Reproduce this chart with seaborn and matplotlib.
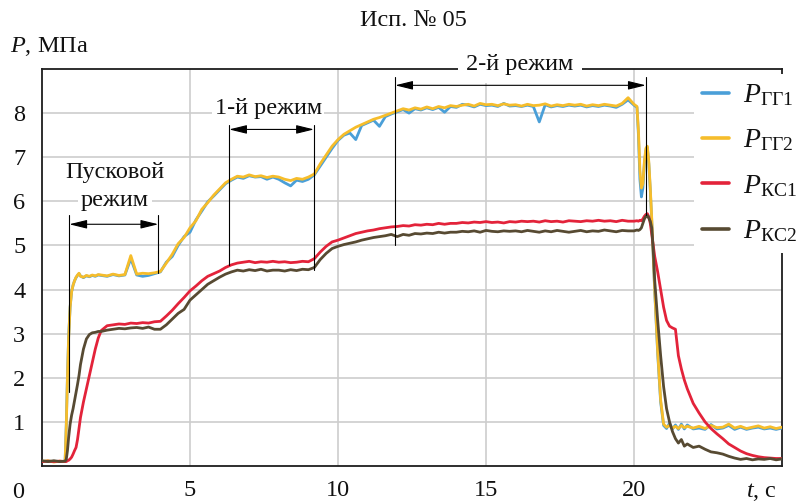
import numpy as np
import pandas as pd
import seaborn as sns
import matplotlib
matplotlib.use("Agg")
import matplotlib.pyplot as plt
from matplotlib.lines import Line2D

# ---------------- data ----------------
t_start = [0, 0.2, 0.4, 0.6, 0.78, 0.82, 0.86, 0.9, 0.95, 1.0, 1.05, 1.1,
           1.15, 1.2, 1.25, 1.3, 1.4, 1.5, 1.6, 1.7, 1.8, 1.9]
t_mid = [2.0, 2.2, 2.4, 2.6, 2.8, 3.0, 3.2, 3.4, 3.6, 3.8,
         4.0, 4.2, 4.4, 4.6, 4.8, 5.0, 5.2, 5.4, 5.6, 5.8,
         6.0, 6.2, 6.4, 6.6, 6.8, 7.0, 7.2, 7.4, 7.6, 7.8,
         8.0, 8.2, 8.4, 8.6, 8.8, 9.0, 9.2, 9.4, 9.6, 9.8,
         10.0, 10.2, 10.4, 10.6, 10.8, 11.0, 11.2, 11.4, 11.6, 11.8,
         12.0, 12.2, 12.4, 12.6, 12.8, 13.0, 13.2, 13.4, 13.6, 13.8,
         14.0, 14.2, 14.4, 14.6, 14.8, 15.0, 15.2, 15.4, 15.6, 15.8,
         16.0, 16.2, 16.4, 16.6, 16.8, 17.0, 17.2, 17.4, 17.6, 17.8,
         18.0, 18.2, 18.4, 18.6, 18.8, 19.0, 19.2, 19.4, 19.6, 19.8]
t_end = [20.0, 20.1, 20.15, 20.2, 20.25, 20.3, 20.35, 20.4, 20.45, 20.5,
         20.55, 20.6, 20.65, 20.7, 20.8, 20.9, 21.0, 21.1, 21.2, 21.3,
         21.4, 21.5, 21.6, 21.7, 21.8, 22.0]
t_tail = [22.2, 22.4, 22.6, 22.8, 23.0, 23.2, 23.4, 23.6, 23.8, 24.0,
          24.2, 24.4, 24.6, 24.8, 25.0]

p_gg1 = ([0.1, 0.11, 0.1, 0.1, 0.1, 0.95, 2.05, 2.95, 3.6, 3.95, 4.1, 4.2,
          4.27, 4.32, 4.36, 4.31, 4.27, 4.31, 4.29, 4.32, 4.3, 4.33]
         + [4.32, 4.3, 4.34, 4.31, 4.33, 4.7, 4.33, 4.3, 4.32, 4.36,
            4.4, 4.62, 4.75, 5.0, 5.2, 5.3, 5.58, 5.78, 5.99, 6.12,
            6.26, 6.4, 6.48, 6.55, 6.52, 6.58, 6.55, 6.56, 6.5, 6.55,
            6.5, 6.42, 6.35, 6.48, 6.45, 6.5, 6.6, 6.8, 7.0, 7.2,
            7.38, 7.5, 7.55, 7.4, 7.72, 7.78, 7.84, 7.7, 7.92, 7.98,
            8.03, 8.08, 8.0, 8.1, 8.07, 8.12, 8.08, 8.13, 8.02, 8.15,
            8.13, 8.2, 8.18, 8.14, 8.2, 8.17, 8.18, 8.15, 8.22, 8.16,
            8.17, 8.15, 8.18, 8.15, 7.8, 8.19, 8.14, 8.17, 8.15, 8.18,
            8.16, 8.18, 8.14, 8.17, 8.15, 8.18, 8.16, 8.13, 8.2, 8.3]
         + [8.18, 8.13, 7.5, 6.5, 6.1, 6.3, 6.85, 7.15, 7.22, 6.85,
            6.25, 5.55, 4.75, 3.95, 2.55, 1.45, 0.92, 0.85, 0.97, 0.84,
            0.93, 0.83, 0.95, 0.84, 0.93, 0.84]
         + [0.86, 0.83, 0.94, 0.84, 0.86, 0.92, 0.83, 0.88, 0.83, 0.86,
            0.88, 0.84, 0.86, 0.83, 0.86])

p_gg2 = ([0.1, 0.12, 0.09, 0.11, 0.1, 0.9, 2.0, 2.9, 3.6, 3.95, 4.1, 4.2,
          4.28, 4.33, 4.37, 4.3, 4.28, 4.32, 4.3, 4.33, 4.31, 4.34]
         + [4.33, 4.31, 4.35, 4.32, 4.34, 4.77, 4.35, 4.37, 4.36, 4.38,
            4.41, 4.6, 4.8, 5.04, 5.18, 5.4, 5.56, 5.82, 5.97, 6.14,
            6.28, 6.42, 6.5, 6.57, 6.55, 6.6, 6.56, 6.58, 6.54, 6.57,
            6.55, 6.5, 6.47, 6.52, 6.5, 6.55, 6.62, 6.85, 7.05, 7.25,
            7.4, 7.52, 7.6, 7.68, 7.74, 7.8, 7.86, 7.9, 7.95, 8.0,
            8.05, 8.1, 8.07, 8.12, 8.09, 8.14, 8.1, 8.15, 8.12, 8.17,
            8.15, 8.18, 8.2, 8.16, 8.22, 8.19, 8.2, 8.17, 8.21, 8.18,
            8.19, 8.16, 8.2, 8.17, 8.18, 8.21, 8.16, 8.19, 8.17, 8.2,
            8.18, 8.2, 8.16, 8.19, 8.17, 8.2, 8.18, 8.16, 8.22, 8.35]
         + [8.2, 8.15, 7.6, 6.7, 6.3, 6.4, 6.9, 7.2, 7.25, 6.9,
            6.3, 5.6, 4.8, 4.0, 2.6, 1.5, 0.95, 0.88, 0.92, 0.86,
            0.9, 0.85, 0.92, 0.87, 0.9, 0.86]
         + [0.9, 0.85, 0.92, 0.87, 0.88, 0.95, 0.86, 0.9, 0.85, 0.88,
            0.91, 0.86, 0.89, 0.85, 0.88])

p_ks1 = ([0.1, 0.11, 0.1, 0.11, 0.1, 0.1, 0.12, 0.13, 0.16, 0.2, 0.27, 0.35,
          0.42, 0.6, 0.85, 1.1, 1.45, 1.75, 2.05, 2.35, 2.65, 2.9]
         + [3.07, 3.18, 3.2, 3.22, 3.21, 3.24, 3.23, 3.25, 3.24, 3.27,
            3.28, 3.4, 3.53, 3.68, 3.82, 3.97, 4.08, 4.2, 4.3, 4.36,
            4.42, 4.5, 4.56, 4.6, 4.62, 4.64, 4.61, 4.63, 4.62, 4.64,
            4.62, 4.63, 4.61, 4.62, 4.64, 4.63, 4.7, 4.85, 4.98, 5.08,
            5.12, 5.17, 5.22, 5.27, 5.3, 5.33, 5.35, 5.38, 5.4, 5.42,
            5.43, 5.45, 5.44, 5.47, 5.46, 5.48, 5.47, 5.5, 5.48, 5.5,
            5.5, 5.52, 5.51, 5.53, 5.52, 5.54, 5.52, 5.53, 5.51, 5.54,
            5.53, 5.55, 5.54, 5.55, 5.53, 5.56, 5.54, 5.55, 5.53, 5.56,
            5.55, 5.54, 5.56, 5.55, 5.57, 5.55, 5.56, 5.54, 5.57, 5.55]
         + [5.55, 5.56, 5.55, 5.57, 5.56, 5.6, 5.66, 5.7, 5.72, 5.65,
            5.5, 5.25, 5.0, 4.75, 4.4, 4.0, 3.6, 3.3, 3.17, 3.13,
            3.1, 2.5, 2.2, 1.95, 1.75, 1.42]
         + [1.2, 1.0, 0.85, 0.73, 0.62, 0.5, 0.42, 0.34, 0.28, 0.24,
            0.21, 0.19, 0.18, 0.17, 0.17])

p_ks2 = ([0.12, 0.1, 0.12, 0.1, 0.11, 0.15, 0.35, 0.65, 0.95, 1.15, 1.3, 1.48,
          1.65, 1.85, 2.05, 2.3, 2.65, 2.88, 2.98, 3.02, 3.03, 3.05]
         + [3.05, 3.08, 3.1, 3.12, 3.11, 3.13, 3.14, 3.12, 3.15, 3.1,
            3.1, 3.2, 3.33, 3.46, 3.55, 3.76, 3.88, 4.0, 4.12, 4.2,
            4.28, 4.35, 4.4, 4.44, 4.42, 4.45, 4.43, 4.46, 4.42, 4.44,
            4.44, 4.42, 4.45, 4.43, 4.46, 4.45, 4.5, 4.68, 4.82, 4.93,
            4.98, 5.02, 5.05, 5.08, 5.12, 5.15, 5.18, 5.2, 5.22, 5.25,
            5.2, 5.25, 5.23, 5.27, 5.26, 5.28, 5.27, 5.3, 5.28, 5.3,
            5.3, 5.32, 5.31, 5.33, 5.3, 5.34, 5.32, 5.31, 5.33, 5.32,
            5.33, 5.31, 5.34, 5.32, 5.3, 5.33, 5.31, 5.34, 5.32, 5.3,
            5.32, 5.34, 5.31, 5.33, 5.32, 5.35, 5.33, 5.31, 5.34, 5.33]
         + [5.33, 5.35, 5.34, 5.36, 5.4, 5.5, 5.6, 5.66, 5.68, 5.62,
            5.55, 5.4, 4.9, 4.2, 3.3, 2.5, 1.8, 1.3, 1.0, 0.78,
            0.62, 0.52, 0.6, 0.45, 0.5, 0.42]
         + [0.45, 0.38, 0.32, 0.3, 0.27, 0.22, 0.18, 0.15, 0.17, 0.14,
            0.16, 0.15, 0.17, 0.14, 0.16])

series_keys = ["GG1", "GG2", "KS1", "KS2"]
series_labels = [r"$P_{\mathrm{ГГ1}}$", r"$P_{\mathrm{ГГ2}}$",
                 r"$P_{\mathrm{КС1}}$", r"$P_{\mathrm{КС2}}$"]
series_colors = ["#4a9fd8", "#f6bd2b", "#e3233a", "#574a32"]

x_ticks = [5, 10, 15, 20]
y_ticks = [1, 2, 3, 4, 5, 6, 7, 8]

t = t_start + t_mid + t_end + t_tail
values = [p_gg1, p_gg2, p_ks1, p_ks2]
for v in values:
    assert len(v) == len(t), (len(v), len(t))

df = pd.DataFrame({
    "t": t * 4,
    "P": sum(values, []),
    "series": sum([[k] * len(t) for k in series_keys], []),
})

# ---------------- style ----------------
sns.set_theme(style="white")
plt.rcParams["font.family"] = ["Liberation Serif", "DejaVu Serif"]
plt.rcParams["mathtext.fontset"] = "custom"
plt.rcParams["mathtext.rm"] = "Liberation Serif"
plt.rcParams["mathtext.it"] = "Liberation Serif:italic"
plt.rcParams["mathtext.bf"] = "Liberation Serif:bold"

FS = 17.5
TXT = "#111111"
fig = plt.figure(figsize=(7.97, 5.04), dpi=100)
ax = fig.add_axes([42 / 797, 38 / 504, 740 / 797, 397 / 504])

sns.lineplot(data=df, x="t", y="P", hue="series", hue_order=series_keys,
             palette=dict(zip(series_keys, series_colors)), linewidth=2.0,
             estimator=None, legend=False, ax=ax, zorder=3)

ax.set_xlim(0, 25)
ax.set_ylim(0, 9)
ax.set_xticks(x_ticks)
ax.set_yticks(y_ticks)
ax.set_xlabel("")
ax.set_ylabel("")
ax.tick_params(axis="both", length=0, labelsize=FS, colors=TXT)
ax.tick_params(axis="x", pad=10)
ax.tick_params(axis="y", pad=12)
ax.grid(True, color="#cdcdcd", linewidth=1.2)
ax.set_axisbelow(True)
for s in ax.spines.values():
    s.set_visible(True)
    s.set_color("#1e1e1e")
    s.set_linewidth(1.3)

# axis texts
ax.text(-0.81, -0.6, "0", ha="center", va="center", fontsize=FS,
        color=TXT, clip_on=False)
ax.text(24.3, -0.6, "$t$, с", ha="center", va="center", fontsize=FS,
        color=TXT, clip_on=False)
fig.text(10 / 797, 1 - 47 / 504, "$P$, МПа", ha="left", va="center",
         fontsize=FS, color=TXT)
fig.text(413 / 797, 1 - 21 / 504, "Исп. № 05", ha="center", va="center",
         fontsize=FS, color=TXT)

# regime annotations
arrow_kw = dict(arrowstyle="<|-|>,head_length=0.9,head_width=0.22",
                color="black", lw=0.8, shrinkA=0, shrinkB=0)
box = dict(facecolor="white", edgecolor="none", pad=2)

def bracket(x0, x1, y_arrow, y_top, y_bot0, y_bot1):
    ax.plot([x0, x0], [y_top, y_bot0], color="black", lw=0.8, zorder=6)
    ax.plot([x1, x1], [y_top, y_bot1], color="black", lw=0.8, zorder=6)
    ax.annotate("", xy=(x1, y_arrow), xytext=(x0, y_arrow),
                arrowprops=arrow_kw, zorder=6)

bracket(0.92, 3.93, 5.48, 5.68, 1.67, 4.37)
ax.text(2.47, 6.66, "Пусковой", ha="center", va="center", fontsize=FS,
        color=TXT, bbox=box, zorder=7)
ax.text(2.47, 6.02, "режим", ha="center", va="center", fontsize=FS,
        color=TXT, bbox=box, zorder=7)

bracket(6.32, 9.19, 7.63, 7.74, 4.55, 4.45)
ax.text(7.64, 8.1, "1-й режим", ha="center", va="center", fontsize=FS,
        color=TXT, bbox=box, zorder=7)

bracket(11.93, 20.4, 8.63, 8.82, 5.0, 5.68)
ax.text(16.15, 9.1, "2-й режим", ha="center", va="center", fontsize=FS,
        color=TXT, bbox=dict(facecolor="white", edgecolor="none", pad=6),
        zorder=7, clip_on=False)

# legend
handles = [Line2D([0], [0], color=c, lw=2.6) for c in series_colors]
leg = ax.legend(handles, series_labels, loc="upper left",
                bbox_to_anchor=(652 / 740, (466 - 74) / 397),
                borderaxespad=0, frameon=True, fancybox=False,
                facecolor="white", edgecolor="none", framealpha=1,
                fontsize=20, handlelength=0.95, handletextpad=0.5,
                labelspacing=0.7, borderpad=0.3)
for txt in leg.get_texts():
    txt.set_color(TXT)
leg.set_zorder(10)

fig.savefig("out.png", dpi=100, facecolor="white")
